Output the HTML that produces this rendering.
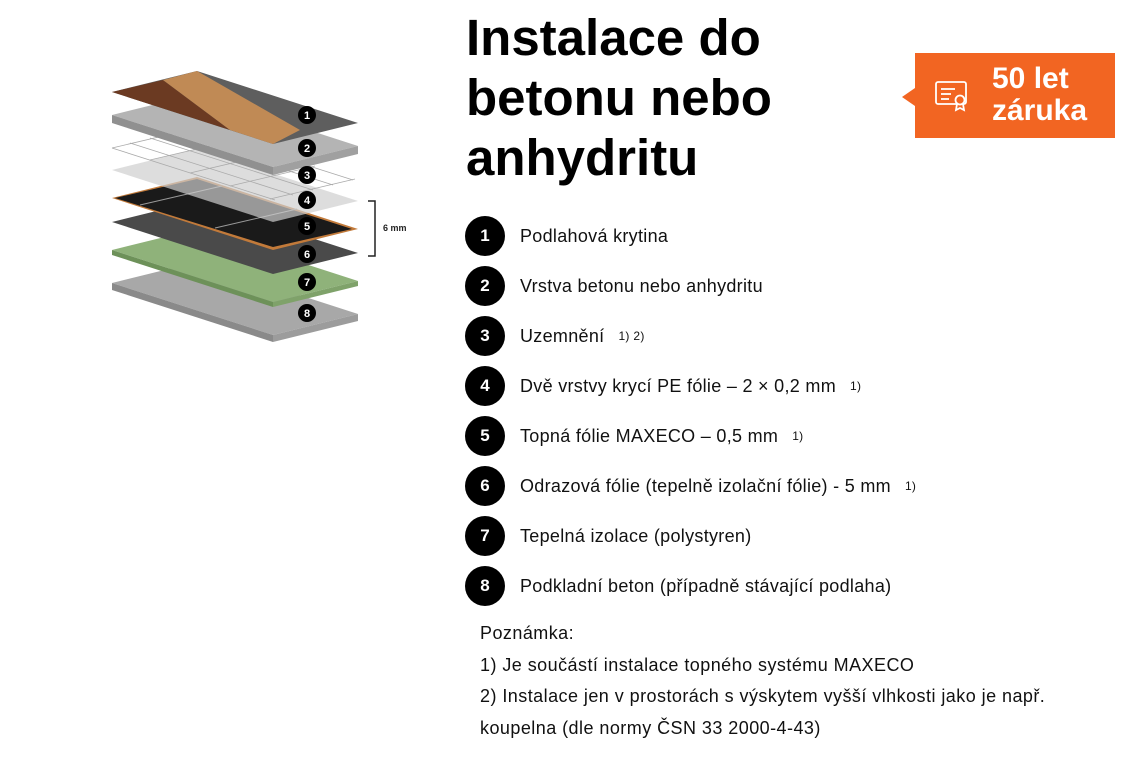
<!DOCTYPE html>
<html><head><meta charset="utf-8"><style>
body{margin:0;width:1125px;height:768px;background:#fff;position:relative;overflow:hidden;font-family:"Liberation Sans",sans-serif;color:#111}
.t{position:absolute;left:466px;top:8px;font-size:51px;font-weight:bold;line-height:60px;letter-spacing:0px;color:#000}
.badge{position:absolute;left:915px;top:53px;width:200px;height:85px;background:#f26522}
.badge:before{content:"";position:absolute;left:-13px;top:35px;border-right:13px solid #f26522;border-top:9px solid transparent;border-bottom:9px solid transparent}
.bt{position:absolute;left:77px;top:10px;color:#fff;font-weight:bold;font-size:30px;line-height:32px}
.it{position:absolute;left:465px;height:40px;font-size:18px;line-height:40px}
.it b{position:absolute;left:0;top:0;width:40px;height:40px;border-radius:50%;background:#000;color:#fff;text-align:center;font-size:17px}
.it span{position:absolute;left:55px;white-space:nowrap;letter-spacing:0.3px}
.it sup{font-size:12px;vertical-align:2px;margin-left:14px}
.n{position:absolute;left:480px;top:618px;font-size:18px;line-height:31.5px;letter-spacing:0.45px;white-space:nowrap}
</style></head><body>
<svg width="440" height="440" style="position:absolute;left:0;top:0">
<g stroke="none">
<polygon points="112,283 197,262 358,314 273,335" fill="#a8a8a8"/>
<polygon points="112,283 273,335 273,342 112,290" fill="#8a8a8a"/><polygon points="273,335 358,314 358,321 273,342" fill="#9c9c9c"/>
<polygon points="112,250 197,229 358,281 273,302" fill="#8fb27a"/>
<polygon points="112,250 273,302 273,307 112,255" fill="#6d9159"/><polygon points="273,302 358,281 358,286 273,307" fill="#7fa26a"/>
<polygon points="112,222 197,201 358,253 273,274" fill="#4a4a4a"/>
<polygon points="112,198 197,177 358,229 273,250" fill="#c27a3a"/>
<polygon points="115,198 197,179 352,229 273,247" fill="#1a1a1a"/>
<line x1="140" y1="205" x2="222" y2="186" stroke="#999" stroke-width="1"/>
<line x1="215" y1="228" x2="297" y2="209" stroke="#999" stroke-width="1"/>
<polygon points="112,170 197,149 358,201 273,222" fill="#cfcfcf" opacity="0.7"/>
<g stroke="#aaa" stroke-width="0.8" fill="none">
<line x1="112" y1="148" x2="275" y2="200"/><line x1="130" y1="143" x2="293" y2="195"/><line x1="150" y1="138" x2="313" y2="190"/><line x1="170" y1="133" x2="333" y2="185"/><line x1="190" y1="128" x2="353" y2="180"/>
<line x1="112" y1="148" x2="197" y2="128"/><line x1="150" y1="160" x2="235" y2="140"/><line x1="190" y1="173" x2="275" y2="153"/><line x1="230" y1="186" x2="315" y2="166"/><line x1="270" y1="199" x2="355" y2="179"/>
</g>
<polygon points="112,115 197,94 358,146 273,167" fill="#b4b4b4"/>
<polygon points="112,115 273,167 273,175 112,123" fill="#909090"/><polygon points="273,167 358,146 358,154 273,175" fill="#a0a0a0"/>
<polygon points="112,92 197,71 358,123 273,144" fill="#5e5e5e"/>
<polygon points="112,92 163,80 230,130" fill="#6b3a22"/>
<polygon points="163,80 197,71 300,130 273,144 230,130" fill="#c08a55"/>
</g>
<g font-family="Liberation Sans" font-weight="bold" font-size="11" fill="#fff" text-anchor="middle">
<g fill="#000"><circle cx="307" cy="115" r="9"/><circle cx="307" cy="148" r="9"/><circle cx="307" cy="175" r="9"/><circle cx="307" cy="200" r="9"/><circle cx="307" cy="226" r="9"/><circle cx="307" cy="254" r="9"/><circle cx="307" cy="282" r="9"/><circle cx="307" cy="313" r="9"/></g>
<text x="307" y="119">1</text><text x="307" y="152">2</text><text x="307" y="179">3</text><text x="307" y="204">4</text><text x="307" y="230">5</text><text x="307" y="258">6</text><text x="307" y="286">7</text><text x="307" y="317">8</text>
</g>
<path d="M368,201 H375 V256 H368" stroke="#222" stroke-width="1.5" fill="none"/>
<text x="383" y="231" font-family="Liberation Sans" font-weight="bold" font-size="9" fill="#222">6 mm</text>
</svg>
<div class="t">Instalace do<br>betonu nebo<br>anhydritu</div>
<div class="badge">
<svg width="36" height="32" style="position:absolute;left:20px;top:27px" fill="none" stroke="#fff" stroke-width="1.8"><rect x="1" y="2" width="30" height="22" rx="2"/><line x1="6" y1="9" x2="20" y2="9"/><line x1="6" y1="14" x2="16" y2="14"/><line x1="6" y1="19" x2="14" y2="19"/><circle cx="25" cy="20" r="4.5" fill="#f26522"/><path d="M22,24 l-1,6 4,-2 4,2 -1,-6"/></svg>
<div class="bt">50 let<br>záruka</div></div>
<div class="it" style="top:216px"><b>1</b><span>Podlahová krytina</span></div>
<div class="it" style="top:266px"><b>2</b><span>Vrstva betonu nebo anhydritu</span></div>
<div class="it" style="top:316px"><b>3</b><span>Uzemnění<sup>1) 2)</sup></span></div>
<div class="it" style="top:366px"><b>4</b><span>Dvě vrstvy krycí PE fólie – 2 × 0,2 mm<sup>1)</sup></span></div>
<div class="it" style="top:416px"><b>5</b><span>Topná fólie MAXECO – 0,5 mm<sup>1)</sup></span></div>
<div class="it" style="top:466px"><b>6</b><span>Odrazová fólie (tepelně izolační fólie) - 5 mm<sup>1)</sup></span></div>
<div class="it" style="top:516px"><b>7</b><span>Tepelná izolace (polystyren)</span></div>
<div class="it" style="top:566px"><b>8</b><span>Podkladní beton (případně stávající podlaha)</span></div>
<div class="n">Poznámka:<br>1) Je součástí instalace topného systému MAXECO<br>2) Instalace jen v prostorách s výskytem vyšší vlhkosti jako je např.<br>koupelna (dle normy ČSN 33 2000-4-43)</div>
</body></html>
